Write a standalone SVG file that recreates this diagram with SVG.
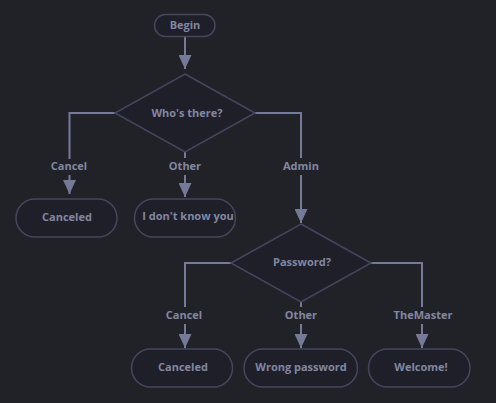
<svg xmlns="http://www.w3.org/2000/svg" width="496" height="403" viewBox="0 0 496 403">
<defs>
<marker id="arr" viewBox="0 0 14 13" refX="14" refY="6.5" markerWidth="14" markerHeight="13" markerUnits="userSpaceOnUse" orient="auto">
<path d="M0,0 L14,6.5 L0,13 Z" fill="#767a99"/>
</marker>
</defs>
<style>
.node{fill:#1e1f29;stroke:#44475e;stroke-width:1.5}
.t{font-family:"Open Sans","Noto Sans",sans-serif;font-size:11px;font-weight:700;fill:#8387a2;text-anchor:middle;dominant-baseline:central}
.e{fill:none;stroke:#767a99;stroke-width:2}
.lbl{font-family:"Open Sans","Noto Sans",sans-serif;font-size:11px;font-weight:700;fill:#8387a2;text-anchor:middle;dominant-baseline:central}
</style>
<rect width="496" height="403" fill="#212227"/>
<g id="connectors">
<path class="e" d="M185,37 V69" marker-end="url(#arr)"/>
<path class="e" d="M115,113 H69.5 V159 M69.5,175 V194" marker-end="url(#arr)"/>
<path class="e" d="M185,152 V158 M185,175 V197" marker-end="url(#arr)"/>
<path class="e" d="M255,113 H301 V158 M301,175 V223" marker-end="url(#arr)"/>
<path class="e" d="M231,263 H185 V307 M185,324 V348" marker-end="url(#arr)"/>
<path class="e" d="M301,302 V307 M301,324 V348" marker-end="url(#arr)"/>
<path class="e" d="M371,263 H422 V307 M422,324 V348" marker-end="url(#arr)"/>
<text class="lbl" x="69" y="165">Cancel</text>
<text class="lbl" x="185" y="165">Other</text>
<text class="lbl" x="301" y="165">Admin</text>
<text class="lbl" x="184" y="314">Cancel</text>
<text class="lbl" x="301" y="314">Other</text>
<text class="lbl" x="423" y="314">TheMaster</text>
</g>
<g id="begin"><rect class="node" x="154.5" y="14.5" width="60.5" height="22" rx="11"/><text class="t" x="185" y="24.5">Begin</text></g>
<g id="whos"><path class="node" d="M185,74 L255,113 L185,152 L115,113 Z"/><text class="t" x="187" y="112">Who's there?</text></g>
<g id="canceled1"><rect class="node" x="16" y="199" width="101" height="38" rx="19"/><text class="t" x="67" y="216.5">Canceled</text></g>
<g id="unknown"><rect class="node" x="134.5" y="199" width="101" height="38" rx="19"/><text class="t" x="188" y="215.5">I don't know you</text></g>
<g id="password"><path class="node" d="M301,224 L371,263 L301,302 L231,263 Z"/><text class="t" x="302" y="261">Password?</text></g>
<g id="canceled2"><rect class="node" x="131.5" y="349" width="101" height="38" rx="19"/><text class="t" x="183" y="366">Canceled</text></g>
<g id="wrong"><rect class="node" x="244" y="349" width="113.5" height="38" rx="19"/><text class="t" x="301" y="366">Wrong password</text></g>
<g id="welcome"><rect class="node" x="368.5" y="349" width="101.5" height="38" rx="19"/><text class="t" x="421" y="366">Welcome!</text></g>
</svg>
